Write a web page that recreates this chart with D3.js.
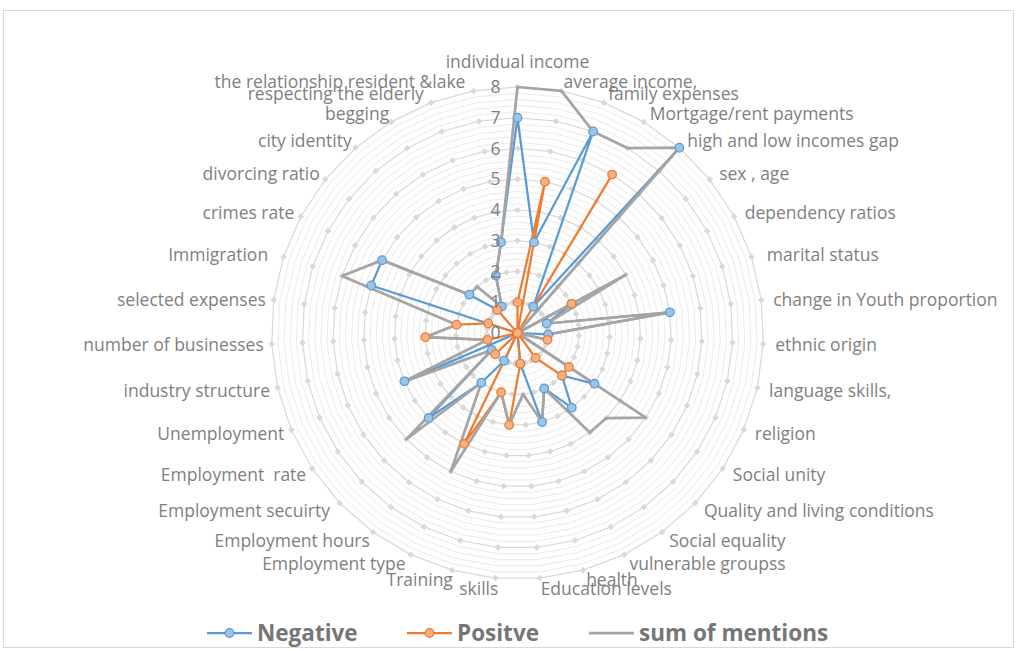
<!DOCTYPE html>
<html><head><meta charset="utf-8">
<script src="https://cdn.jsdelivr.net/npm/d3@7/dist/d3.min.js"></script>
<style>
body{margin:0;background:#fff}
svg{display:block}
text{font-family:"Open Sans",sans-serif;white-space:pre}
</style>
</head><body>
<svg id="chart" width="1018" height="651"></svg>
<script>
const categories = ["individual income","average income,","family expenses","Mortgage/rent payments","high and low incomes gap","sex , age","dependency ratios","marital status","change in Youth proportion","ethnic origin","language skills,","religion","Social unity","Quality and living conditions","Social equality","vulnerable groupss","health","Education levels","skills","Training","Employment type","Employment hours","Employment secuirty","Employment  rate","Unemployment","industry structure","number of businesses","selected expenses","Immigration","crimes rate","divorcing ratio","city identity","begging","respecting the elderly","the relationship resident &lake"];
const negative = [7,3,7,1,8,0,2,1,5,1,0,0,3,2,3,2,3,1,0,0,1,2,4,1,4,0,0,0,5,5,2,1,1,2,3];
const positive = [1,5,0,6,0,0,2,0,0,0,1,0,2,2,1,0,0,1,3,2,4,0,1,0,0,1,3,2,1,0,0,1,0,0,0];
const sumOfMentions = [8,8,7,7,8,0,4,1,5,1,1,0,5,4,4,2,3,2,3,2,5,2,5,1,4,1,3,2,6,5,2,2,1,2,3];
const tickLabels = [0,1,2,3,4,5,6,7,8];
const seriesNames = ["Negative","Positve","sum of mentions"];

const svg = d3.select("#chart");
const cx = 517.5, cy = 333, R = 246;
const n = categories.length;

svg.append("rect").attr("x",3.5).attr("y",10.5).attr("width",1010).attr("height",637)
  .attr("fill","#fff").attr("stroke","#d9d9d9").attr("stroke-width",1);

const ang = d3.scaleLinear().domain([0,n]).range([0,2*Math.PI]);
const r = d3.scaleLinear().domain([0,8]).range([0,R]);

const g = svg.append("g").attr("transform",`translate(${cx},${cy})`);

// minor rings
const minor = r.ticks(40).filter(v => v>0 && Math.abs(v-Math.round(v))>1e-6);
const ringLine = v => d3.lineRadial().angle((d,i)=>ang(i)).radius(()=>r(v)).curve(d3.curveLinearClosed)(categories);
g.selectAll("path.minor").data(minor).join("path").attr("class","minor")
  .attr("d",d=>ringLine(d)).attr("fill","none").attr("stroke","#ebebeb").attr("stroke-width",1);
const major = tickLabels.filter(v=>v>0);
g.selectAll("path.major").data(major).join("path").attr("class","major")
  .attr("d",d=>ringLine(d)).attr("fill","none").attr("stroke","#d9d9d9").attr("stroke-width",1.25);
// diamonds at ring vertices
const diamonds = [];
major.forEach(v=>categories.forEach((c,i)=>diamonds.push({v,i})));
const dsym = d3.symbol().type(d3.symbolSquare).size(22);
g.selectAll("path.dia").data(diamonds).join("path").attr("class","dia")
  .attr("d",dsym())
  .attr("transform",d=>{const a=ang(d.i);return `translate(${Math.sin(a)*r(d.v)},${-Math.cos(a)*r(d.v)}) rotate(45)`;})
  .attr("fill","#d9d9d9");

// category labels (small layout nudges per label index)
const LR = 258;
const nudge = {7:4, 20:-4, 22:-5, 28:-8, 33:-3, 34:-6};
g.selectAll("text.cat").data(categories).join("text").attr("class","cat")
  .attr("x",(d,i)=>i===0?0:Math.sin(ang(i))*LR + (i>=18 && i<=32 ? 4 : 0) + (nudge[i]||0))
  .attr("y",(d,i)=>{ if(i===0) return -271; const c=Math.cos(ang(i)); return -c*LR + 0.75 + 2.25*c; })
  .attr("dy","0.35em")
  .attr("text-anchor",(d,i)=>i===0?"middle":(i<=17?"start":"end"))
  .attr("font-size",17.5).attr("fill","#7f7f7f").text(d=>d);

const series = [
  {name:seriesNames[0], values:negative, color:"#5b9bd5", fill:"#9dc3e6", w:2.25, marker:true},
  {name:seriesNames[1], values:positive, color:"#ed7d31", fill:"#f4b183", w:2.25, marker:true},
  {name:seriesNames[2], values:sumOfMentions, color:"#a5a5a5", fill:"none", w:2.75, marker:false}
];
const radial = d3.lineRadial().angle((d,i)=>ang(i)).radius(d=>r(d)).curve(d3.curveLinearClosed);
series.forEach(s=>{
  g.append("path").attr("d",radial(s.values)).attr("fill","none")
   .attr("stroke",s.color).attr("stroke-width",s.w).attr("stroke-linejoin","round");
});
series.filter(s=>s.marker).forEach(s=>{
  g.append("g").selectAll("circle").data(s.values).join("circle")
   .attr("cx",(d,i)=>Math.sin(ang(i))*r(d)).attr("cy",(d,i)=>-Math.cos(ang(i))*r(d))
   .attr("r",4.3).attr("fill",s.fill).attr("stroke",s.color).attr("stroke-width",1.3);
});

// radial axis tick labels
g.selectAll("text.tick").data(tickLabels).join("text").attr("class","tick")
  .attr("x",-17).attr("y",d=>-r(d)).attr("dy","0.35em").attr("text-anchor","end")
  .attr("font-size",17.5).attr("fill","#7f7f7f").text(d=>d);

// legend
const legX = [207,407,589];
const lg = svg.append("g");
series.forEach((s,k)=>{
  const x0 = legX[k], y0 = 633;
  lg.append("line").attr("x1",x0).attr("x2",x0+45).attr("y1",y0).attr("y2",y0)
    .attr("stroke",s.color).attr("stroke-width",s.w);
  if(s.marker) lg.append("circle").attr("cx",x0+22.5).attr("cy",y0).attr("r",4.3)
    .attr("fill",s.fill).attr("stroke",s.color).attr("stroke-width",1.3);
  lg.append("text").attr("x",x0+50).attr("y",y0).attr("dy","0.35em")
    .attr("font-size",22.5).attr("font-weight","bold").attr("fill","#767676").text(s.name);
});
</script>
</body></html>
